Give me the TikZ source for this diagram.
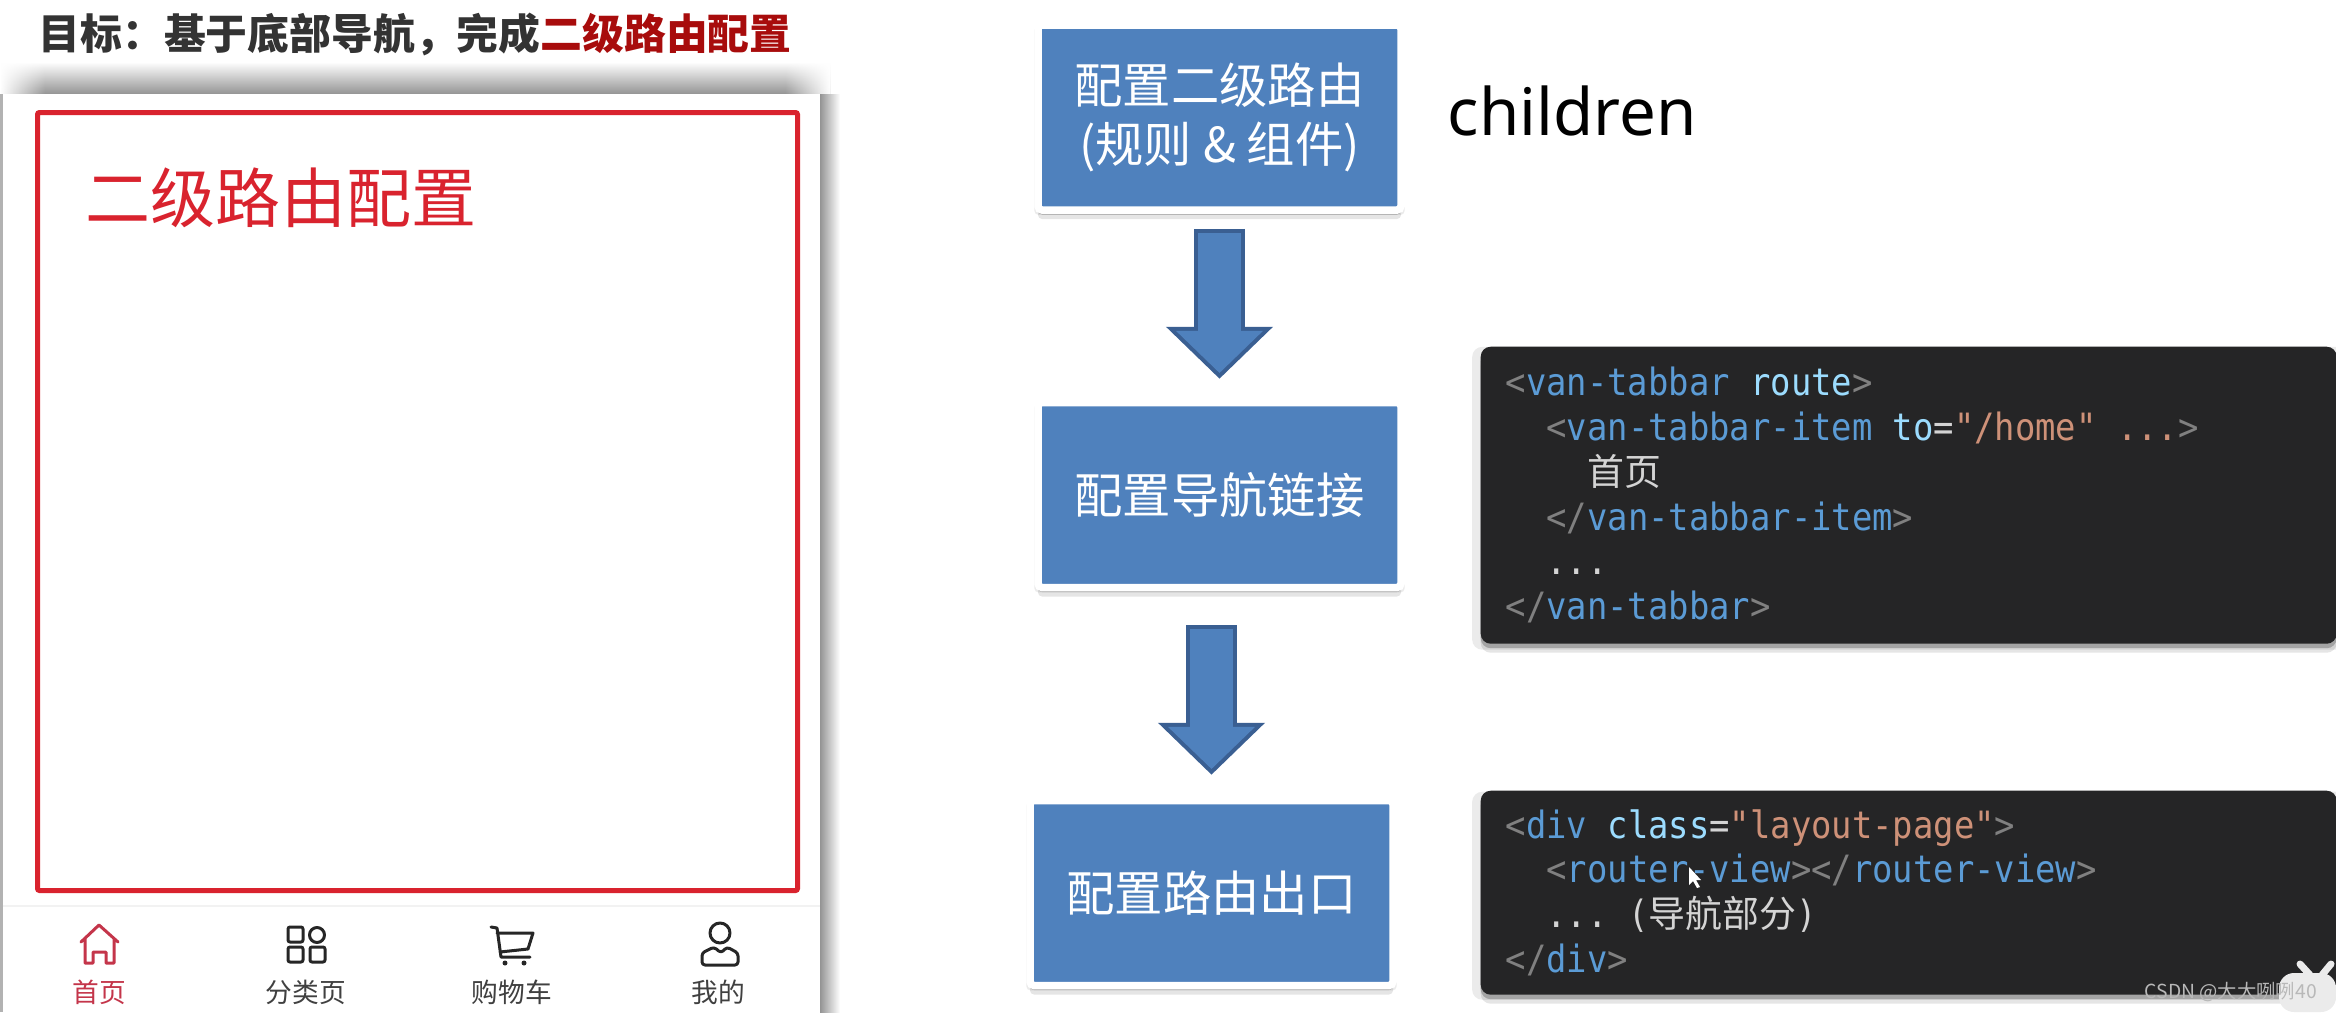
\documentclass[tikz,border=0pt]{standalone}
\usepackage{fontspec}
\usepackage{xcolor}
\usetikzlibrary{shadows,arrows.meta,calc,fadings}
\setmainfont{Noto Sans CJK SC}
\newfontfamily\latinfont{Noto Sans}
\newfontfamily\codefont[FakeStretch=0.9]{DejaVu Sans Mono}

\definecolor{boxblue}{HTML}{4F81BD}
\definecolor{arrowedge}{HTML}{3A5F92}
\definecolor{framered}{HTML}{D9232E}
\definecolor{titlered}{HTML}{A80C0C}
\definecolor{homered}{HTML}{C4354A}
\definecolor{codebg}{HTML}{252526}
\definecolor{brackgray}{HTML}{808080}
\definecolor{tagblue}{HTML}{5B9BD5}
\definecolor{attrblue}{HTML}{9CDCFE}
\definecolor{valsalmon}{HTML}{CE9178}
\definecolor{plaincode}{HTML}{D4D4D4}

\newcommand{\brk}[1]{\textcolor{brackgray}{#1}}
\newcommand{\tagn}[1]{\textcolor{tagblue}{#1}}
\newcommand{\attr}[1]{\textcolor{attrblue}{#1}}
\newcommand{\val}[1]{\textcolor{valsalmon}{#1}}
\newcommand{\plain}[1]{\textcolor{plaincode}{#1}}
\newcommand{\cjkcode}[1]{{\rmfamily\fontsize{10.5pt}{12.75pt}\selectfont\textcolor{plaincode}{#1}}}
\newcommand{\onecol}{\hspace*{2.04mm}}

\tikzset{
  softshadow/.style={
    drop shadow={shadow xshift=0mm,shadow yshift=-0.3mm,shadow scale=1.02,opacity=.08,fill=black},
    drop shadow={shadow xshift=0mm,shadow yshift=-0.9mm,opacity=.10,fill=black},
    drop shadow={shadow xshift=0mm,shadow yshift=-0.45mm,opacity=.22,fill=black}},
  stepbox/.style={rectangle,fill=boxblue,draw=white,line width=0.75mm,rounded corners=0.4mm,
    minimum width=36.3mm,minimum height=18.5mm,inner sep=0pt,align=center,text=white,softshadow,
    font=\fontsize{13.75pt}{17pt}\selectfont},
  codebox/.style={rectangle,fill=codebg,rounded corners=1mm,anchor=north west,inner sep=0pt,
    minimum width=85.6mm,text width=80.6mm,align=left,softshadow,
    font=\codefont\fontsize{10.7pt}{12.75pt}\selectfont},
  tablabel/.style={inner sep=0pt,font=\fontsize{7.6pt}{9pt}\selectfont,text=black!75},
  tabicon/.style={line width=0.3mm,line join=round,line cap=round},
  flowouter/.style 2 args={draw=arrowedge,line width=5.1mm,shorten <=#1mm,shorten >=#2mm,
    -{Triangle[length=5.2mm,width=10.4mm]}},
  flowinner/.style 2 args={draw=boxblue,line width=4.3mm,shorten <=#1mm,shorten >=#2mm,
    -{Triangle[length=4.23mm,width=8.47mm]}}
}

\begin{document}
\begin{tikzpicture}[x=0.1mm,y=-0.1mm]
  \useasboundingbox (0,0) rectangle (2336,1012);
  \fill[white] (0,0) rectangle (2336,1012);

  % Title
  \node[anchor=west,inner sep=0pt,font=\bfseries\fontsize{11.9pt}{14pt}\selectfont,text=black!80] (goal) at (38,35)
    {目标^^^^ff1a基于底部导航^^^^ff0c完成\textcolor{titlered}{二级路由配置}};

  % Phone with its shadow
  \shade[top color=white,bottom color=black!42] (0,62) rectangle (830,94);
  \fill[white,path fading=east] (0,62) rectangle (45,94);
  \fill[white,path fading=west] (785,62) rectangle (830,94);
  \shade[left color=black!42,right color=white] (820,94) rectangle (840,1012);
  \fill[black!30] (0,94) rectangle (3,1012);
  \fill[white] (3,94) rectangle (820,1012);
  \draw[framered,line width=0.5mm,rounded corners=0.2mm] (37.5,112.5) rectangle (797.5,890.5);
  \node[inner sep=0pt,text=framered,font=\fontsize{18.5pt}{22pt}\selectfont] (pagetitle) at (281,198) {二级路由配置};
  \draw[black!5,line width=0.2mm] (3,906) -- (820,906);

  % Tab bar icons
  \draw[tabicon,homered] (81,942) -- (99,925) -- (118,942) (85,939) -- (85,963) -- (93,963) -- (93,952)
    -- (106,952) -- (106,963) -- (114,963) -- (114,939);
  \draw[tabicon,black!85,rounded corners=0.2mm] (288,927) rectangle (303,942) (288,947) rectangle (303,962)
    (310,947) rectangle (325,962);
  \draw[tabicon,black!85] (317,935) circle (7.5);
  \draw[tabicon,black!85] (491,927) -- (497,928) -- (501,957) -- (530,957) (497,933) -- (533,933) -- (528,949) -- (500,952);
  \fill[black!85] (505,963) circle (2.5) (524,963) circle (2.5);
  \draw[tabicon,black!85] (720,933) circle (10);
  \draw[tabicon,black!85,rounded corners=0.3mm] (702,965) -- (702,953) -- (714,947) -- (721,953) -- (727,947)
    -- (738,953) -- (738,965) -- cycle;

  % Tab bar labels
  \node[tablabel,text=homered] (tabhome) at (99,992) {首页};
  \node[tablabel] (tabsort) at (306,992) {分类页};
  \node[tablabel] (tabcart) at (512,992) {购物车};
  \node[tablabel] (tabmine) at (718,992) {我的};

  % Steps
  \node[stepbox] (cfgroute) at (1219.5,117.5) {配置二级路由\\(规则 \& 组件)};
  \node[stepbox] (cfglink) at (1219.5,495) {配置导航链接};
  \node[stepbox] (cfgoutlet) at (1211.5,893) {配置路由出口};
  \node[anchor=base west,inner sep=0pt,font=\latinfont\fontsize{18.6pt}{20pt}\selectfont] (childrenword) at (1447,135) {children};

  % Block arrows
  \draw[flowouter={1.5}{2.0}] (cfgroute.south) -- (cfglink.north);
  \draw[flowinner={1.9}{2.57}] (cfgroute.south) -- (cfglink.north);
  \draw[flowouter={3.4}{2.2}] (cfglink.south -| cfgoutlet.north) -- (cfgoutlet.north);
  \draw[flowinner={3.8}{2.77}] (cfglink.south -| cfgoutlet.north) -- (cfgoutlet.north);

  % Code panels
  \node[codebox,minimum height=29.7mm] (tabbarcode) at (1480,346) {%
    \brk{<}\tagn{van-tabbar}\onecol\attr{route}\brk{>}\\
    \onecol\onecol\brk{<}\tagn{van-tabbar-item}\onecol\attr{to}\plain{=}\val{"/home"}\onecol\val{...}\brk{>}\\
    \onecol\onecol\onecol\onecol\cjkcode{首页}\\
    \onecol\onecol\brk{</}\tagn{van-tabbar-item}\brk{>}\\
    \onecol\onecol\plain{...}\\
    \brk{</}\tagn{van-tabbar}\brk{>}};
  \node[codebox,minimum height=20.4mm] (outletcode) at (1480,790) {%
    \brk{<}\tagn{div}\onecol\attr{class}\plain{=}\val{"layout-page"}\brk{>}\\
    \onecol\onecol\brk{<}\tagn{router-view}\brk{></}\tagn{router-view}\brk{>}\\
    \onecol\onecol\plain{...}\onecol\plain{(}\cjkcode{导航部分}\plain{)}\\
    \brk{</}\tagn{div}\brk{>}};

  % Mouse pointer
  \fill[white] (1689,867) -- (1689,885) -- (1693,881) -- (1697,888) -- (1700,887) -- (1696,880) -- (1701,880) -- cycle;

  % Corner badge and watermark
  \fill[black!8,rounded corners=1.5mm] (2279,1012) -- (2279,973) -- (2336,973) -- (2336,1012) -- cycle;
  \draw[black!8,line width=0.7mm,line cap=round] (2300,964) -- (2310,975) (2331,964) -- (2322,975);
  \node[anchor=west,inner sep=0pt,text=black!28,font=\fontsize{5.5pt}{7pt}\selectfont] (watermark) at (2144,992) {CSDN @大大咧咧40};
\end{tikzpicture}
\end{document}
